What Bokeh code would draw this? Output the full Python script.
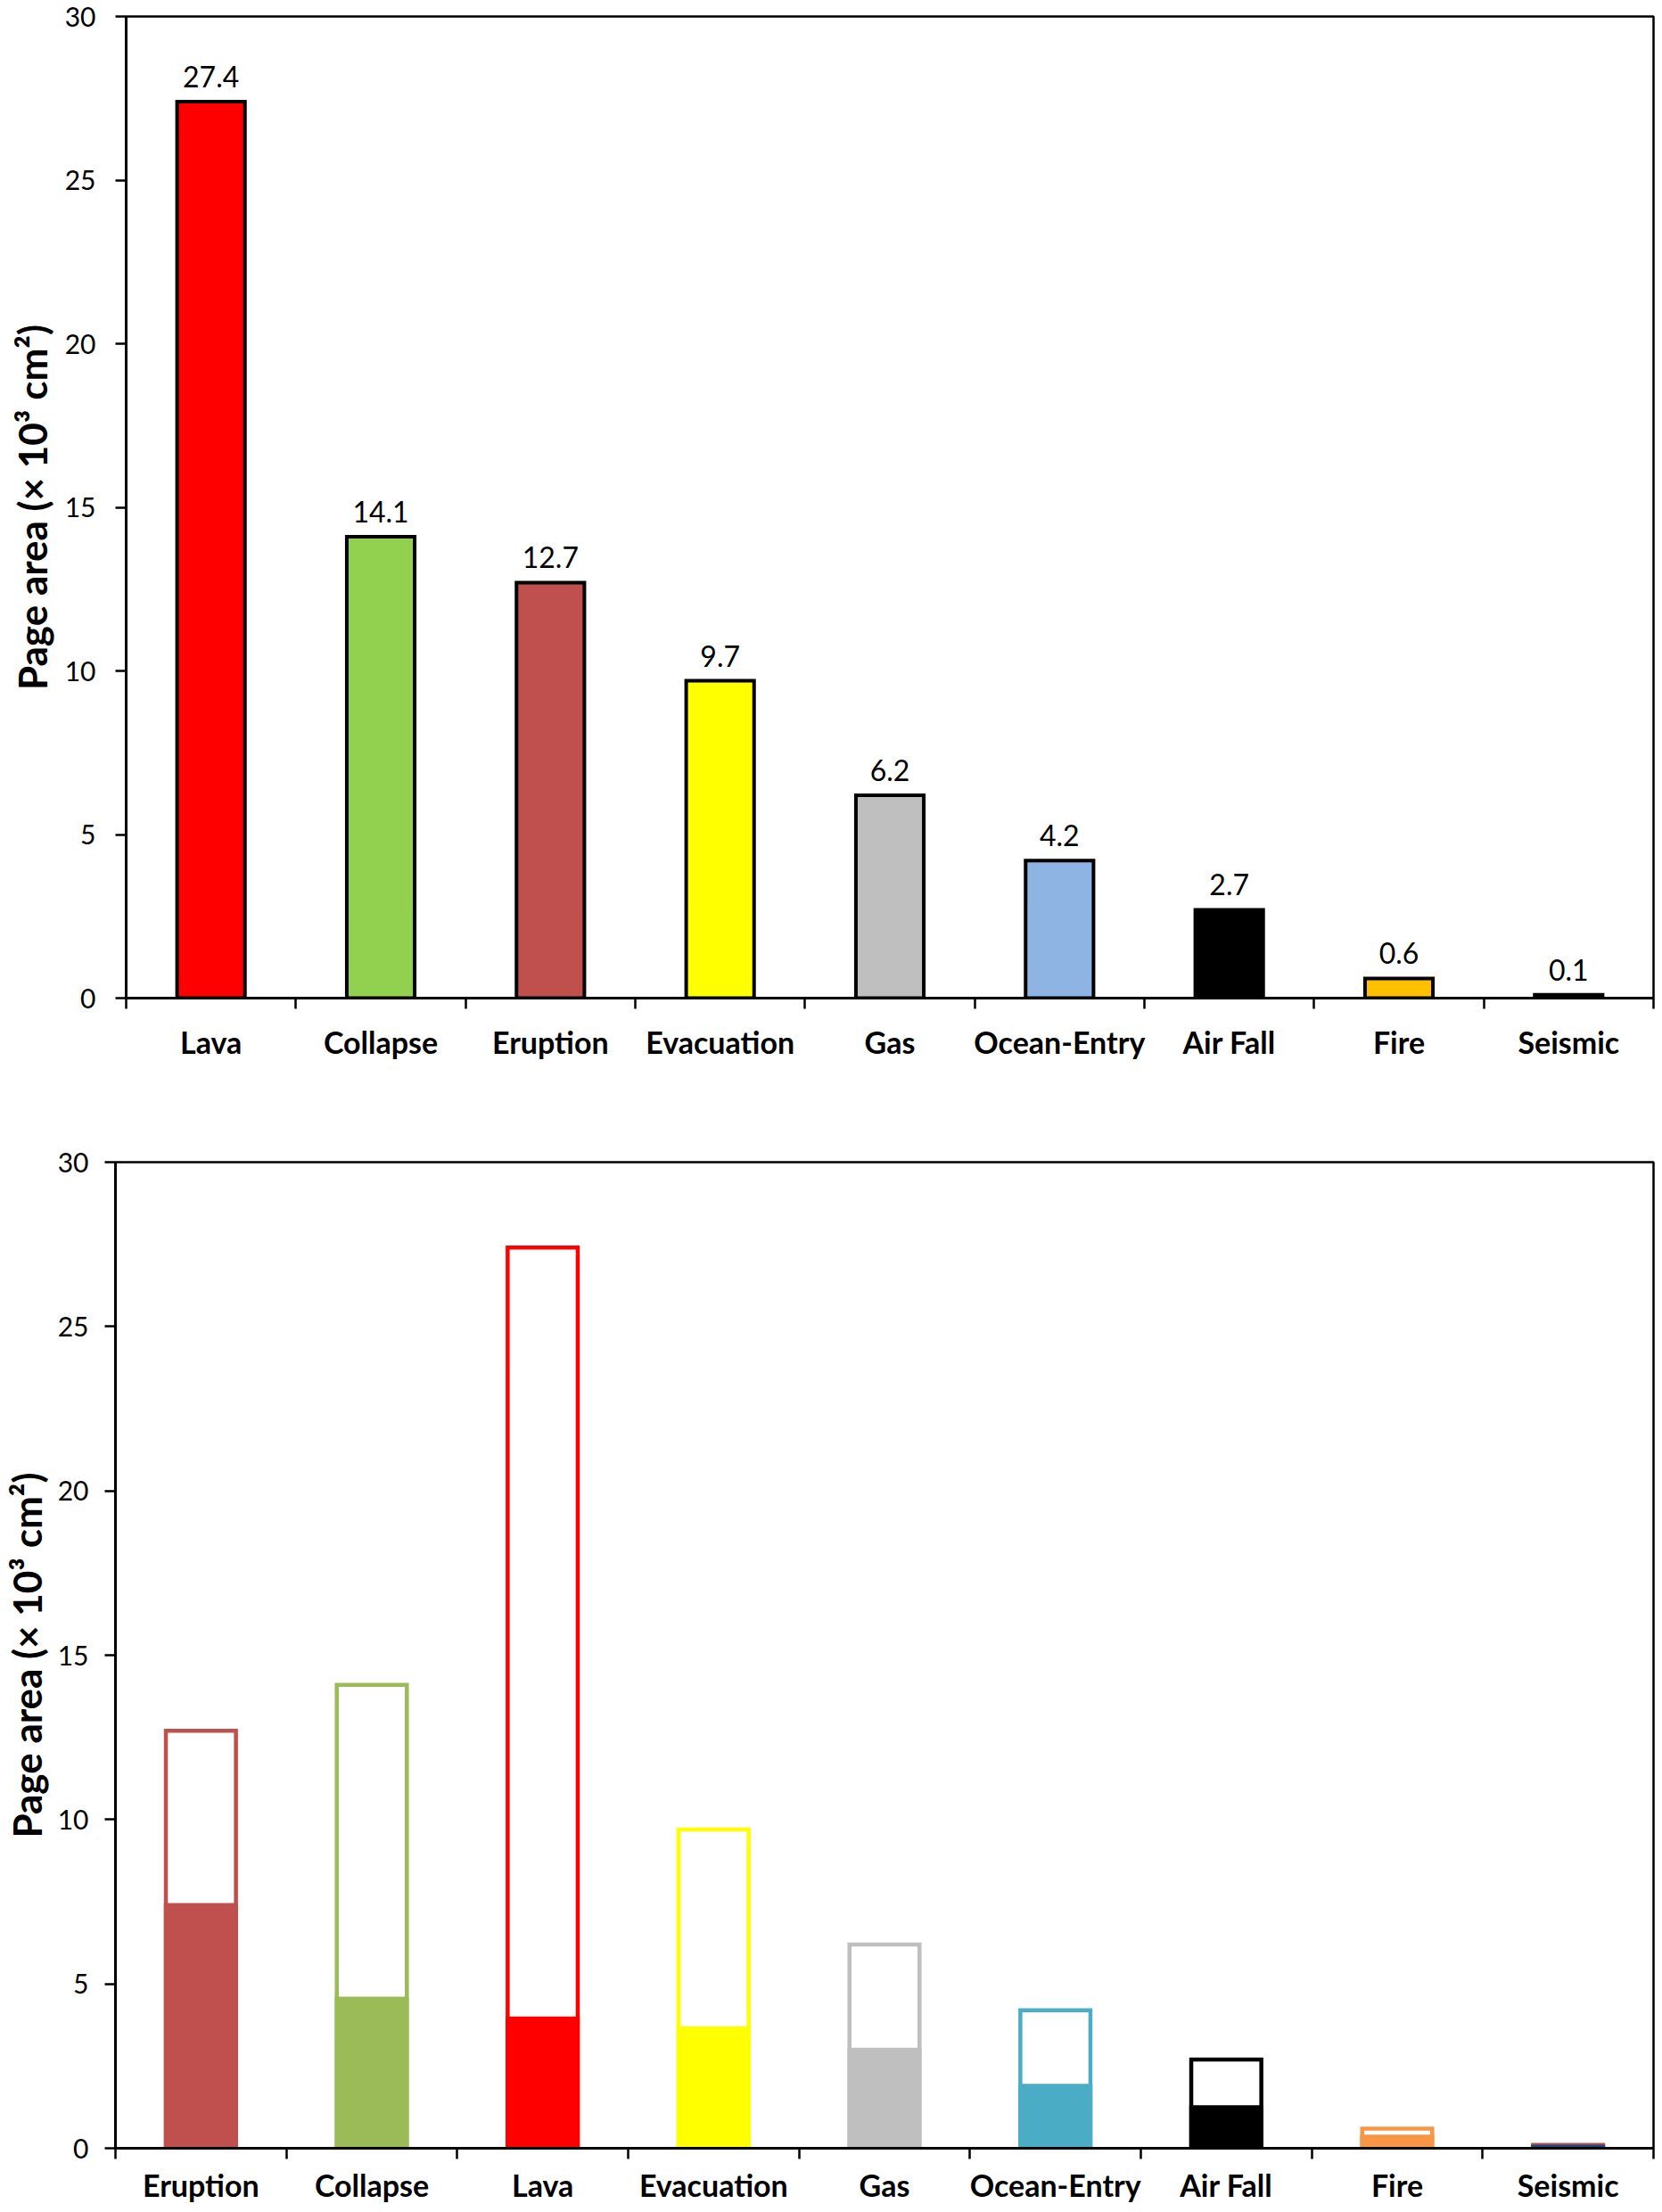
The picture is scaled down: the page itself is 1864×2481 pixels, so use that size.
from bokeh.plotting import figure
from bokeh.models import Range1d, FixedTicker, ColumnDataSource
from bokeh.core.properties import value
from bokeh.embed import file_html
from bokeh.resources import INLINE

# ---- data ----
top_categories = ["Lava", "Collapse", "Eruption", "Evacuation", "Gas",
                  "Ocean-Entry", "Air Fall", "Fire", "Seismic"]
top_values = [27.4, 14.1, 12.7, 9.7, 6.2, 4.2, 2.7, 0.6, 0.1]
top_colors = ["#FF0000", "#92D050", "#C0504D", "#FFFF00", "#BFBFBF",
              "#8DB4E2", "#000000", "#FFC000", "#000000"]

bottom_categories = ["Eruption", "Collapse", "Lava", "Evacuation", "Gas",
                     "Ocean-Entry", "Air Fall", "Fire", "Seismic"]
bottom_totals = [12.7, 14.1, 27.4, 9.7, 6.2, 4.2, 2.7, 0.6, 0.1]
bottom_parts = [7.4, 4.55, 3.95, 3.65, 3.0, 1.9, 1.25, 0.35, 0.05]
bottom_line_colors = ["#C0504D", "#9BBB59", "#FF0000", "#FFFF00", "#BFBFBF",
                      "#4BACC6", "#000000", "#F79646", "#C0504D"]
bottom_fill_colors = ["#C0504D", "#9BBB59", "#FF0000", "#FFFF00", "#BFBFBF",
                      "#4BACC6", "#000000", "#F79646", "#1F497D"]

y_ticks = [0, 5, 10, 15, 20, 25, 30]
y_label = "Page area (\u00d7 10\u00b3 cm\u00b2)"

FONT = "Lato"
W = 1856


def style(p, cats, x_standoff, y_standoff, ylab_standoff):
    p.xgrid.visible = False
    p.ygrid.visible = False
    p.outline_line_color = "black"
    p.outline_line_width = 2.5
    p.background_fill_color = "white"
    p.border_fill_color = "white"

    xa = p.xaxis[0]
    centers = [i + 0.5 for i in range(len(cats))]
    xa.ticker = FixedTicker(ticks=centers, minor_ticks=list(range(len(cats) + 1)))
    xa.major_label_overrides = {c: lab for c, lab in zip(centers, cats)}
    xa.major_tick_line_color = None
    xa.major_tick_out = 0
    xa.major_tick_in = 0
    xa.minor_tick_out = 12
    xa.minor_tick_in = 0
    xa.minor_tick_line_width = 2.5
    xa.minor_tick_line_color = "black"
    xa.axis_line_width = 3
    xa.axis_line_color = "black"
    xa.major_label_text_font = FONT
    xa.major_label_text_font_style = "bold"
    xa.major_label_text_font_size = "34px"
    xa.major_label_text_color = "black"
    xa.major_label_standoff = x_standoff

    ya = p.yaxis[0]
    ya.ticker = FixedTicker(ticks=y_ticks)
    ya.minor_tick_line_color = None
    ya.major_tick_out = 12
    ya.major_tick_in = 0
    ya.major_tick_line_width = 2.5
    ya.axis_line_width = 3
    ya.axis_line_color = "black"
    ya.major_label_text_font = FONT
    ya.major_label_text_font_size = "30px"
    ya.major_label_text_color = "black"
    ya.major_label_standoff = y_standoff
    ya.axis_label = y_label
    ya.axis_label_text_font = FONT
    ya.axis_label_text_font_style = "bold"
    ya.axis_label_text_font_size = "44px"
    ya.axis_label_text_color = "black"
    ya.axis_label_standoff = ylab_standoff


# ---- top chart ----
p1 = figure(width=W, height=1260, output_backend="svg", toolbar_location=None,
            x_range=Range1d(0, len(top_categories)), y_range=Range1d(0, 30),
            min_border_left=141, min_border_right=2, min_border_top=18,
            min_border_bottom=141)
style(p1, top_categories, 16, 22, 8)

src1 = ColumnDataSource(dict(
    x=[i + 0.5 for i in range(len(top_categories))],
    top=top_values,
    color=top_colors,
    label=[f"{v:.1f}" for v in top_values],
))
p1.vbar(x="x", top="top", bottom=0, width=0.40, fill_color="color",
        line_color="black", line_width=4, line_join="miter", source=src1)
p1.text(x="x", y="top", text="label", source=src1, text_align="center",
        text_baseline="bottom", y_offset=-16, text_font=value(FONT),
        text_font_size="32px", text_color="black")

# ---- bottom chart ----
p2 = figure(width=W, height=1213, output_backend="svg", toolbar_location=None,
            x_range=Range1d(0, len(bottom_categories)), y_range=Range1d(0, 30),
            min_border_left=126, min_border_right=2, min_border_top=43,
            min_border_bottom=62)
style(p2, bottom_categories, 8, 18, 6)

src2 = ColumnDataSource(dict(
    x=[i + 0.5 for i in range(len(bottom_categories))],
    total=bottom_totals,
    part=bottom_parts,
    lc=bottom_line_colors,
    fc=bottom_fill_colors,
))
p2.vbar(x="x", top="total", bottom=0, width=0.41, fill_color="white",
        line_color="lc", line_width=4.5, line_join="miter", source=src2)
p2.vbar(x="x", top="part", bottom=0, width=0.41, fill_color="fc",
        line_color="fc", line_width=4.5, line_join="miter", source=src2)

open("out.html", "w").write(file_html([p1, p2], INLINE))
